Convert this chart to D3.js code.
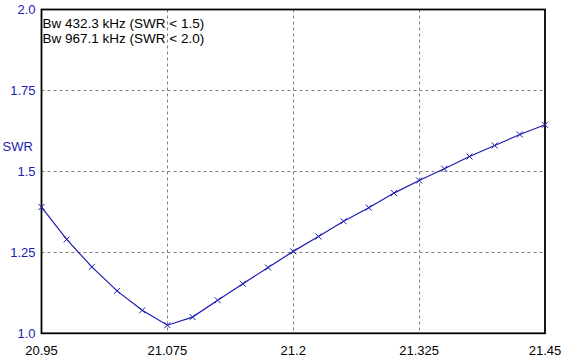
<!DOCTYPE html>
<html><head><meta charset="utf-8">
<script src="https://cdn.jsdelivr.net/npm/d3@7"></script>
<style>body{margin:0;background:#fff}svg{display:block}text{font-family:Arial,"Liberation Sans",sans-serif;font-size:13px}</style>
</head><body><svg id="c" width="564" height="359"></svg>
<script>
const freqs = [20.95,20.975,21.0,21.025,21.05,21.075,21.1,21.125,21.15,21.175,21.2,21.225,21.25,21.275,21.3,21.325,21.35,21.375,21.4,21.425,21.45];
const swr = [1.39,1.29,1.205,1.131,1.071,1.025,1.05,1.102,1.153,1.203,1.253,1.299,1.346,1.388,1.433,1.472,1.508,1.546,1.580,1.614,1.644];
const xTicks = [20.95,21.075,21.2,21.325,21.45];
const xTickLabels = ["20.95","21.075","21.2","21.325","21.45"];
const yTicks = [1.0,1.25,1.5,1.75,2.0];
const yTickLabels = ["1.0","1.25","1.5","1.75","2.0"];
const notes = ["Bw 432.3 kHz (SWR < 1.5)","Bw 967.1 kHz (SWR < 2.0)"];
const yTitle = "SWR";

const svg = d3.select("#c");
const x = d3.scaleLinear().domain([20.95,21.45]).range([41.5,545]);
const y = d3.scaleLinear().domain([1.0,2.0]).range([333.3,9.5]);
const blue = "#1c1cb0";

// grid
svg.append("g").selectAll("line").data(xTicks.slice(1,-1)).join("line")
  .attr("x1",d=>Math.round(x(d))+0.5).attr("x2",d=>Math.round(x(d))+0.5)
  .attr("y1",y(2.0)).attr("y2",y(1.0))
  .attr("stroke","#808080").attr("stroke-dasharray","3,3");
svg.append("g").selectAll("line").data(yTicks.slice(1,-1)).join("line")
  .attr("y1",d=>Math.round(y(d))+0.5).attr("y2",d=>Math.round(y(d))+0.5)
  .attr("x1",x(20.95)).attr("x2",x(21.45))
  .attr("stroke","#808080").attr("stroke-dasharray","3,3");

// frame
svg.append("rect").attr("x",x(20.95)).attr("y",y(2.0))
  .attr("width",x(21.45)-x(20.95)).attr("height",y(1.0)-y(2.0))
  .attr("fill","none").attr("stroke","#000").attr("stroke-width",1.8);

// curve
const pts = freqs.map((f,i)=>[x(f),y(swr[i])]);
svg.append("path").attr("d",d3.line()(pts)).attr("fill","none")
  .attr("stroke",blue).attr("stroke-width",1.2);
svg.append("g").selectAll("path").data(pts).join("path")
  .attr("d",p=>`M${p[0]-3},${p[1]-3}L${p[0]+3},${p[1]+3}M${p[0]-3},${p[1]+3}L${p[0]+3},${p[1]-3}`)
  .attr("stroke",blue).attr("stroke-width",1);

// axis labels
svg.append("g").selectAll("text").data(yTicks).join("text")
  .attr("x",35.5).attr("y",d=>y(d)).attr("dy","0.35em").attr("text-anchor","end")
  .attr("fill",blue).text((d,i)=>yTickLabels[i]);
svg.append("g").selectAll("text").data(xTicks).join("text")
  .attr("x",d=>x(d)).attr("y",355).attr("text-anchor","middle")
  .attr("fill","#000").text((d,i)=>xTickLabels[i]);
svg.append("text").attr("x",2.5).attr("y",150.5).attr("fill",blue).text(yTitle);

svg.append("g").selectAll("text").data(notes).join("text")
  .attr("x",42.5).attr("y",(d,i)=>28.3+i*14.3).attr("fill","#000")
  .style("font-size","13.5px").text(d=>d);
</script></body></html>
